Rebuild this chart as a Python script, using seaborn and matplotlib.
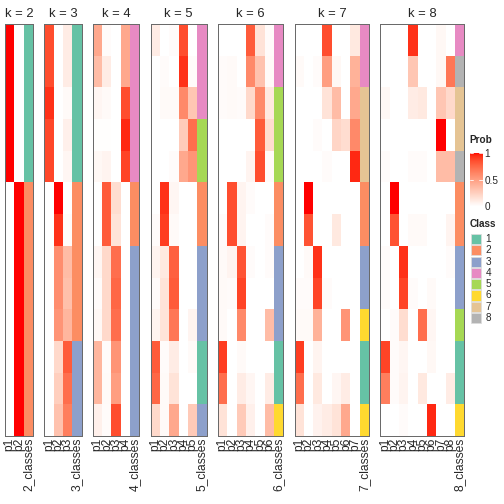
import numpy as np
import pandas as pd
import matplotlib
matplotlib.use("Agg")
import matplotlib.pyplot as plt
from matplotlib.colors import ListedColormap
from matplotlib.patches import Rectangle
import seaborn as sns

# ---------------- data ----------------
prob_k2 = [[1, 0]] * 5 + [[0, 1]] * 8
class_k2 = [1, 1, 1, 1, 1, 2, 2, 2, 2, 2, 2, 2, 2]

prob_k3 = [[0.85, 0, 0.10], [0.85, 0, 0.10], [0.93, 0, 0.03], [0.87, 0, 0.08],
           [0.87, 0, 0.05], [0, 1.0, 0], [0, 0.93, 0.02], [0, 0.58, 0.35],
           [0, 0.58, 0.33], [0, 0.55, 0.38], [0, 0.20, 0.80], [0, 0.25, 0.72],
           [0, 0.32, 0.65]]
class_k3 = [1, 1, 1, 1, 1, 2, 2, 2, 2, 2, 3, 3, 3]

prob_k4 = [[0.45, 0.02, 0, 0.45], [0.35, 0.10, 0, 0.45], [0.05, 0.03, 0, 0.85],
           [0.01, 0.01, 0, 0.95], [0.04, 0.06, 0, 0.88], [0, 0.80, 0.18, 0],
           [0, 0.80, 0.15, 0], [0.05, 0.20, 0.72, 0], [0.02, 0.20, 0.75, 0],
           [0.04, 0.20, 0.72, 0], [0.38, 0.02, 0.55, 0], [0.38, 0.03, 0.50, 0],
           [0.08, 0.02, 0.85, 0]]
class_k4 = [4, 4, 4, 4, 4, 2, 2, 3, 3, 3, 3, 3, 3]

prob_k5 = [[0.10, 0, 0.02, 0.85, 0], [0, 0.02, 0, 0.93, 0.02], [0, 0.03, 0.03, 0.60, 0.30],
           [0, 0, 0, 0.27, 0.72], [0, 0, 0.02, 0.45, 0.55], [0, 0.93, 0.05, 0, 0],
           [0.02, 0.90, 0.03, 0, 0], [0.06, 0.12, 0.78, 0, 0], [0.02, 0.15, 0.80, 0, 0],
           [0.06, 0.15, 0.68, 0, 0.06], [0.80, 0.02, 0.10, 0, 0.03],
           [0.75, 0.03, 0.15, 0, 0], [0.20, 0.03, 0.45, 0, 0.28]]
class_k5 = [4, 4, 4, 5, 5, 2, 2, 3, 3, 3, 1, 1, 3]

prob_k6 = [[0, 0, 0, 0.80, 0.15, 0.02], [0.02, 0.03, 0, 0.60, 0.32, 0.03],
           [0.02, 0.03, 0.02, 0.20, 0.60, 0.12], [0, 0, 0, 0, 0.80, 0.18],
           [0, 0, 0, 0.06, 0.85, 0.03], [0, 0.85, 0.06, 0.02, 0, 0],
           [0.02, 0.85, 0.06, 0, 0, 0.02], [0.03, 0.06, 0.83, 0.02, 0, 0.02],
           [0.03, 0.02, 0.88, 0, 0, 0], [0.03, 0, 0.60, 0, 0, 0.35],
           [0.90, 0, 0.03, 0, 0, 0], [0.72, 0, 0.10, 0.05, 0, 0.10],
           [0.15, 0, 0.28, 0.08, 0, 0.35]]
class_k6 = [4, 4, 5, 5, 5, 2, 2, 3, 3, 3, 1, 1, 6]

prob_k7 = [[0, 0, 0, 0.85, 0, 0, 0.12], [0.03, 0, 0.02, 0.50, 0.04, 0, 0.40],
           [0, 0, 0, 0.15, 0.35, 0, 0.45], [0, 0, 0.02, 0, 0.22, 0.18, 0.60],
           [0, 0, 0, 0.02, 0, 0, 0.95], [0, 1.0, 0, 0, 0, 0, 0],
           [0, 0.83, 0, 0, 0.12, 0, 0], [0, 0.03, 0.93, 0, 0, 0, 0],
           [0.02, 0.02, 0.88, 0.02, 0, 0, 0], [0.03, 0.03, 0.40, 0, 0, 0.55, 0],
           [0.90, 0, 0.06, 0, 0, 0, 0], [0.72, 0, 0.12, 0, 0.05, 0.10, 0],
           [0.15, 0, 0.07, 0.10, 0.15, 0.45, 0]]
class_k7 = [4, 4, 7, 7, 7, 2, 2, 3, 3, 6, 1, 1, 6]

prob_k8 = [[0, 0, 0, 0.93, 0, 0, 0.04, 0], [0, 0, 0, 0.30, 0, 0, 0.04, 0.68],
           [0.04, 0, 0, 0.10, 0.12, 0, 0.30, 0.20], [0, 0, 0, 0, 0, 0, 1.0, 0],
           [0.02, 0, 0, 0.02, 0.02, 0, 0.35, 0.35], [0, 1.0, 0, 0, 0, 0, 0, 0],
           [0, 0.83, 0, 0.03, 0.03, 0, 0, 0.06], [0.02, 0, 0.93, 0, 0, 0, 0, 0.02],
           [0.02, 0, 0.88, 0.02, 0, 0.03, 0, 0], [0, 0.02, 0.18, 0, 0.72, 0.05, 0, 0],
           [0.88, 0.02, 0.05, 0, 0, 0.04, 0, 0], [0.65, 0.02, 0.06, 0, 0.12, 0, 0, 0.10],
           [0, 0, 0.02, 0, 0, 0.95, 0, 0]]
class_k8 = [4, 8, 7, 7, 8, 2, 2, 3, 3, 5, 1, 1, 6]

ks = [2, 3, 4, 5, 6, 7, 8]
probs = {2: prob_k2, 3: prob_k3, 4: prob_k4, 5: prob_k5, 6: prob_k6, 7: prob_k7, 8: prob_k8}
classes = {2: class_k2, 3: class_k3, 4: class_k4, 5: class_k5, 6: class_k6, 7: class_k7, 8: class_k8}
class_labels = ["1", "2", "3", "4", "5", "6", "7", "8"]
prob_ticks = [0, 0.5, 1]
prob_tick_labels = ["0", "0.5", "1"]

# ---------------- colours ----------------
def _srgb_to_lab(rgb):
    rgb = np.asarray(rgb, float)
    lin = np.where(rgb <= 0.04045, rgb / 12.92, ((rgb + 0.055) / 1.055) ** 2.4)
    M = np.array([[0.4124, 0.3576, 0.1805], [0.2126, 0.7152, 0.0722], [0.0193, 0.1192, 0.9505]])
    xyz = M @ lin / np.array([0.95047, 1.0, 1.08883])
    f = np.where(xyz > 0.008856, np.cbrt(xyz), 7.787 * xyz + 16 / 116)
    return np.array([116 * f[1] - 16, 500 * (f[0] - f[1]), 200 * (f[1] - f[2])])

def _lab_to_srgb(lab):
    L, a, b = lab
    fy = (L + 16) / 116
    fx = fy + a / 500
    fz = fy - b / 200
    f = np.array([fx, fy, fz])
    xyz = np.where(f ** 3 > 0.008856, f ** 3, (f - 16 / 116) / 7.787) * np.array([0.95047, 1.0, 1.08883])
    Minv = np.array([[3.2406, -1.5372, -0.4986], [-0.9689, 1.8758, 0.0415], [0.0557, -0.2040, 1.0570]])
    lin = np.clip(Minv @ xyz, 0, 1)
    return np.clip(np.where(lin <= 0.0031308, 12.92 * lin, 1.055 * lin ** (1 / 2.4) - 0.055), 0, 1)

w_lab = _srgb_to_lab([1, 1, 1])
r_lab = _srgb_to_lab([1, 0, 0])
prob_cmap = ListedColormap([_lab_to_srgb(w_lab * (1 - t) + r_lab * t) for t in np.linspace(0, 1, 256)])
set2 = sns.color_palette("Set2", 8)
class_cmap = ListedColormap(set2)

# ---------------- layout ----------------
sns.set_style("white")
plt.rcParams["font.family"] = ["Liberation Sans", "DejaVu Sans"]

W = H = 504
fig = plt.figure(figsize=(7, 7), dpi=72)
col_w = 9.33
gap = 11.25
x0 = 5.0
top, bottom = 24.0, 436.0

left = x0
for k in ks:
    ncol = k + 1
    width = ncol * col_w
    ax = fig.add_axes([left / W, 1 - bottom / H, width / W, (bottom - top) / H])
    cols = [f"p{i+1}" for i in range(k)] + [f"{k}_classes"]
    p = np.array(probs[k], float)
    c = np.array(classes[k], float)
    prob_df = pd.DataFrame(np.column_stack([p, np.full(len(c), np.nan)]), columns=cols)
    class_df = pd.DataFrame(np.column_stack([np.full((len(c), k), np.nan), c]), columns=cols)
    sns.heatmap(prob_df, cmap=prob_cmap, vmin=0, vmax=1, cbar=False, ax=ax)
    sns.heatmap(class_df, cmap=class_cmap, vmin=0.5, vmax=8.5, cbar=False, ax=ax)
    ax.set_yticks([])
    ax.set_ylabel("")
    ax.set_xticks(np.arange(ncol) + 0.5)
    ax.set_xticklabels(cols, rotation=90, fontsize=12, ha="center", va="top")
    ax.tick_params(axis="x", length=0, pad=2)
    ax.set_title(f"k = {k}", fontsize=13, pad=7)
    for s in ax.spines.values():
        s.set_visible(True)
        s.set_color("#6a6a6a")
        s.set_linewidth(1.0)
    left += width + gap

# ---------------- legends ----------------
cax = fig.add_axes([469.5 / W, 1 - 208 / H, 13 / W, 58 / H])
sm = plt.cm.ScalarMappable(cmap=prob_cmap, norm=plt.Normalize(0, 1))
cb = fig.colorbar(sm, cax=cax, ticks=prob_ticks)
cb.outline.set_visible(False)
cb.ax.set_yticklabels(prob_tick_labels, fontsize=10)
cb.ax.tick_params(length=0, pad=2)
cb.ax.set_ylim(-0.03, 1.05)
for v in [0.5, 1.0]:
    cax.plot([0, 0.25], [v, v], color="white", lw=0.8, transform=cax.get_yaxis_transform())
    cax.plot([0.75, 1], [v, v], color="white", lw=0.8, transform=cax.get_yaxis_transform())
fig.text(469.5 / W, 1 - 140 / H, "Prob", fontsize=10, fontweight="bold", va="center", ha="left")

lax = fig.add_axes([0, 0, 1, 1], facecolor="none")
lax.set_xlim(0, W)
lax.set_ylim(H, 0)
lax.axis("off")
lax.text(469.5, 224, "Class", fontsize=10, fontweight="bold", va="center", ha="left")
for i, lab in enumerate(class_labels):
    yc = 239 + i * 11.3
    lax.add_patch(Rectangle((470.5, yc - 5.1), 10.4, 10.2, facecolor=set2[i],
                            edgecolor="#dcdcdc", lw=0.8))
    lax.text(485.5, yc, lab, fontsize=10, va="center", ha="left")

fig.savefig("out.png", dpi=72)
